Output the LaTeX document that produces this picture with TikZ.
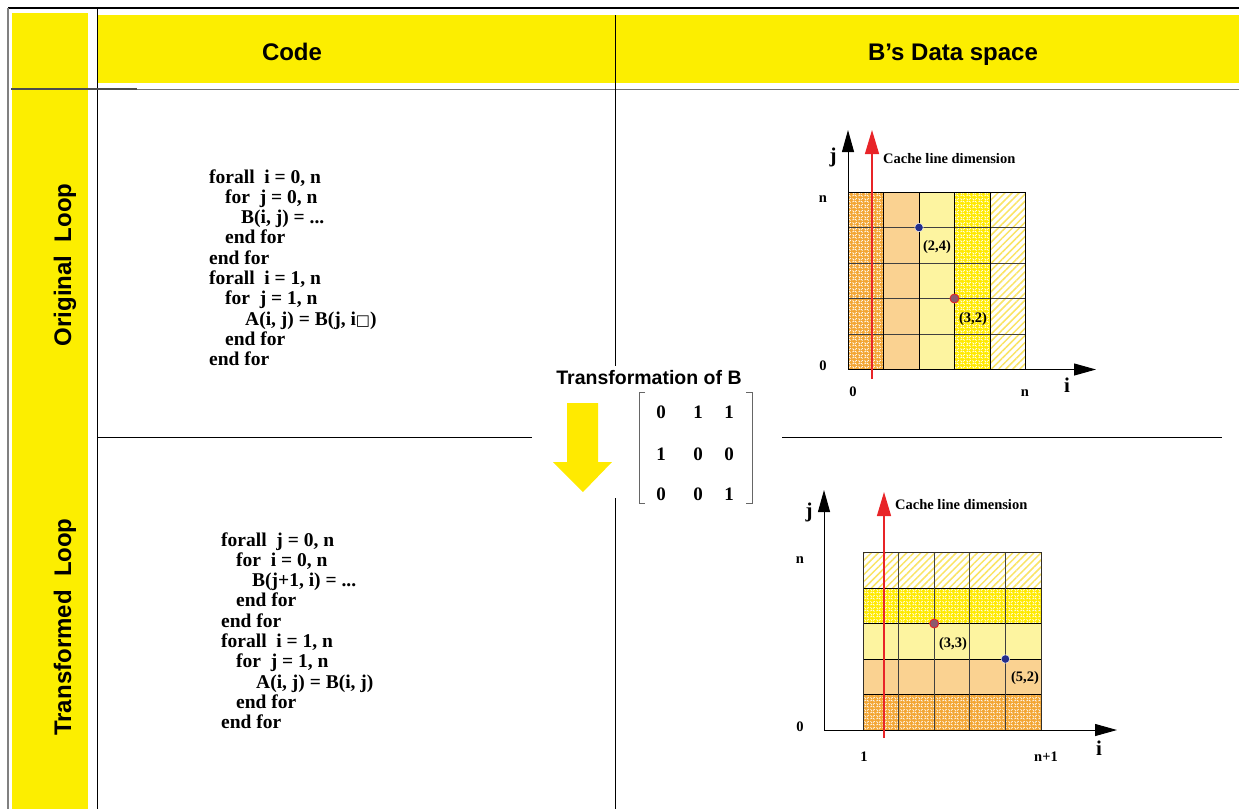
\documentclass[tikz,border=0pt]{standalone}
\usepackage{fontspec}
\setmainfont{Liberation Serif}
\newfontfamily\hv{Liberation Sans}
\newfontfamily\dv{DejaVu Sans}
\usetikzlibrary{arrows.meta,patterns,patterns.meta}
\definecolor{hdr}{RGB}{252,238,0}
\definecolor{orA}{RGB}{243,166,52}
\definecolor{peach}{RGB}{250,210,145}
\definecolor{lyel}{RGB}{253,244,160}
\definecolor{yelB}{RGB}{255,234,0}
\definecolor{hatchy}{RGB}{250,228,100}
\definecolor{cred}{RGB}{232,36,40}
\definecolor{dotblue}{RGB}{35,45,140}
\definecolor{dotred}{RGB}{140,90,110}
\pgfdeclarepatternformonly{weave}{\pgfqpoint{0pt}{0pt}}{\pgfqpoint{6pt}{6pt}}{\pgfqpoint{6pt}{6pt}}{%
  \pgfsetlinewidth{0.9pt}%
  \pgfpathmoveto{\pgfqpoint{0.5pt}{1pt}}\pgfpathlineto{\pgfqpoint{2.5pt}{2.5pt}}%
  \pgfpathmoveto{\pgfqpoint{3.5pt}{4pt}}\pgfpathlineto{\pgfqpoint{5.5pt}{5.5pt}}%
  \pgfpathmoveto{\pgfqpoint{3.5pt}{2.2pt}}\pgfpathlineto{\pgfqpoint{5.2pt}{0.6pt}}%
  \pgfpathmoveto{\pgfqpoint{0.6pt}{5.2pt}}\pgfpathlineto{\pgfqpoint{2.2pt}{3.6pt}}%
  \pgfusepath{stroke}}
\begin{document}
\begin{tikzpicture}[x=1pt,y=-1pt,
  hdrtxt/.style={font=\hv\bfseries\fontsize{24}{28}\selectfont, inner sep=0},
  codeline/.style={font=\bfseries\fontsize{19.5}{20}\selectfont, anchor=base west, inner sep=0},
  mat/.style={font=\bfseries\fontsize{19}{20}\selectfont, inner sep=0},
  lbl/.style={font=\bfseries\fontsize{14.5}{16}\selectfont, inner sep=0},
  axlbl/.style={font=\bfseries\fontsize{21}{24}\selectfont, inner sep=0},
  axis/.style={line width=1pt, -{Triangle[length=22pt,width=12pt]}},
  cacheln/.style={draw=cred, line width=1.3pt, -{Triangle[length=24pt,width=14pt]}, color=cred},
  rule/.style={line width=0.8pt, black},
  orcell/.style={fill=orA, postaction={pattern=weave, pattern color=white!92!orA}},
  pecell/.style={fill=peach},
  lycell/.style={fill=lyel},
  ybcell/.style={fill=yelB, postaction={pattern=weave, pattern color=white!92!yelB}},
  hacell/.style={fill=white, postaction={pattern={Lines[angle=45,distance=5pt,line width=1.5pt]}, pattern color=hatchy}},
  bdot/.style={circle, fill=dotblue, draw=white, line width=0.4pt, inner sep=0, minimum size=8.5pt},
  rdot/.style={circle, fill=dotred, draw=cred, line width=0.9pt, inner sep=0, minimum size=9pt}
]
\useasboundingbox (0,0) rectangle (1239,809);

% ---- frame and headers ----
\fill[hdr] (12,13) rectangle (88,809);
\fill[hdr] (97,15) rectangle (1239,83);
\draw[line width=1.2pt] (8,8) -- (1239,8);
\draw[line width=1.6pt, black!50] (8,8) -- (8,809);
\draw[line width=1pt] (97,8) -- (97,809);
\draw[line width=0.8pt, black!55] (97,89) -- (1239,89);
\draw[line width=1.3pt, black!70] (11,89) -- (137,89);
\draw[rule] (615,15) -- (615,366);
\draw[rule] (615,498) -- (615,809);
\draw[rule] (97,437) -- (532,437);
\draw[rule] (782,437) -- (1222,437);

\node[hdrtxt] (hcode) at (292,52) {Code};
\node[hdrtxt] (hdata) at (953,55) {B’s Data space};
\node[hdrtxt, rotate=90] (rorig) at (65,265) {Original\ \ Loop};
\node[hdrtxt, rotate=90] (rtrans) at (65,627) {Transformed\ \ Loop};

% ---- original code ----
\foreach \t/\d [count=\k] in {{forall\ \ i = 0, n}/0, {for\ \ j = 0, n}/16, {B(i, j) = ...}/32,
  {end for}/16, {end for}/0, {forall\ \ i = 1, n}/0, {for\ \ j = 1, n}/16,
  {A(i, j) = B(j, i{\dv\fontsize{15}{16}\selectfont □})}/36, {end for}/16, {end for}/0}
  \node[codeline] (oc\k) at (209+\d, 183+\k*20.3-20.3) {\t};

% ---- transformed code ----
\foreach \t/\d [count=\k] in {{forall\ \ j = 0, n}/0, {for\ \ i = 0, n}/15, {B(j+1, i) = ...}/31,
  {end for}/15, {end for}/0, {forall\ \ i = 1, n}/0, {for\ \ j = 1, n}/15,
  {A(i, j) = B(i, j)}/35, {end for}/15, {end for}/0}
  \node[codeline] (tc\k) at (221+\d, 546+\k*20.3-20.3) {\t};

% ---- transformation ----
\node[hdrtxt, font=\hv\bfseries\fontsize{19.5}{22}\selectfont] (ttl) at (649,378) {Transformation of B};
\fill[yelB] (567,403) -- (598,403) -- (598,462) -- (612,462) -- (583,492) -- (553,462) -- (567,462) -- cycle;
\draw[line width=1pt, black!60] (645,392) -- (639,392) -- (639,503) -- (645,503);
\draw[line width=1pt, black!60] (746,392) -- (752,392) -- (752,503) -- (746,503);
\node[mat] (m11) at (661,412) {0}; \node[mat] (m12) at (698,412) {1}; \node[mat] (m13) at (729,412) {1};
\node[mat] (m21) at (661,454) {1}; \node[mat] (m22) at (698,454) {0}; \node[mat] (m23) at (729,454) {0};
\node[mat] (m31) at (661,494) {0}; \node[mat] (m32) at (698,494) {0}; \node[mat] (m33) at (729,494) {1};

% ---- top data space ----
\path[orcell] (848,192) rectangle (883.5,369.5);
\path[pecell] (883.5,192) rectangle (919,369.5);
\path[lycell] (919,192) rectangle (954.5,369.5);
\path[ybcell] (954.5,192) rectangle (990,369.5);
\path[hacell] (990,192) rectangle (1025.5,369.5);
\foreach \yy in {227.5,263,298.5,334} \draw[line width=0.8pt, black!75] (848,\yy) -- (1025.5,\yy);
\foreach \xx in {883.5,919,954.5,990} \draw[line width=0.8pt] (\xx,192) -- (\xx,369.5);
\draw[line width=0.9pt] (848,192) rectangle (1025.5,369.5);
\coordinate (o1) at (848,369.5);
\coordinate (ytip1) at (848,130);
\coordinate (xtip1) at (1096,369.5);
\draw[axis] (o1) -- (ytip1);
\draw[axis] (o1) -- (xtip1);
\coordinate (c1s) at (872,379);
\coordinate (c1e) at (872,130);
\draw[cacheln] (c1s) -- (c1e);
\node[axlbl] (j1) at (833,157) {j};
\node[axlbl] (i1) at (1067,385) {i};
\node[lbl, anchor=west] (cl1) at (883,159) {Cache line dimension};
\node[lbl] (n1y) at (823,199) {n};
\node[lbl] (z1y) at (823,366) {0};
\node[lbl] (z1x) at (853,392) {0};
\node[lbl] (n1x) at (1025,393) {n};
\node[bdot] (p24) at (919,227.5) {};
\node[rdot] (p32) at (954.5,298.5) {};
\node[lbl] (l24) at (937,247) {(2,4)};
\node[lbl] (l32) at (973,319) {(3,2)};

% ---- bottom data space ----
\path[hacell] (863,552.5) rectangle (1041,588);
\path[ybcell] (863,588) rectangle (1041,623.5);
\path[lycell] (863,623.5) rectangle (1041,659);
\path[pecell] (863,659) rectangle (1041,694.5);
\path[orcell] (863,694.5) rectangle (1041,730);
\foreach \yy in {588,623.5,659,694.5} \draw[line width=0.8pt] (863,\yy) -- (1041,\yy);
\foreach \xx in {898.6,934.2,969.8,1005.4} \draw[line width=0.8pt, black!75] (\xx,552.5) -- (\xx,730);
\draw[line width=0.9pt, black!85!olive] (863,552.5) rectangle (1041,730);
\coordinate (o2) at (824,730);
\coordinate (ytip2) at (824,490);
\coordinate (xtip2) at (1117,730);
\draw[axis] (o2) -- (ytip2);
\draw[axis] (o2) -- (xtip2);
\coordinate (c2s) at (884,738);
\coordinate (c2e) at (884,492);
\draw[cacheln] (c2s) -- (c2e);
\node[axlbl] (j2) at (809,512) {j};
\node[axlbl] (i2) at (1099,748) {i};
\node[lbl, anchor=west] (cl2) at (895,505) {Cache line dimension};
\node[lbl] (n2y) at (800,560) {n};
\node[lbl] (z2y) at (800,727) {0};
\node[lbl] (o2x) at (864,757) {1};
\node[lbl] (n2x) at (1046,757) {n+1};
\node[rdot] (p33) at (934.2,623.5) {};
\node[bdot] (p52) at (1005.4,659) {};
\node[lbl] (l33) at (953,644) {(3,3)};
\node[lbl] (l52) at (1025,678) {(5,2)};
\end{tikzpicture}
\end{document}
